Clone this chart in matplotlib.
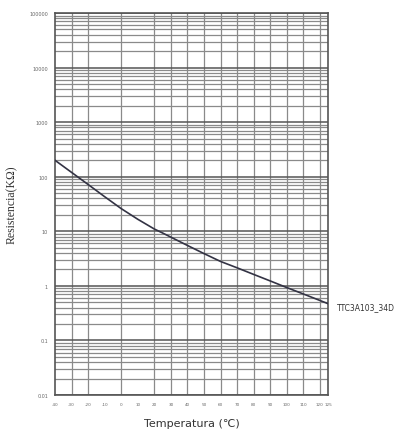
import matplotlib.pyplot as plt
import matplotlib.ticker as mticker

# Datos
temps = [-40, -30, -20, -10, 0, 10, 20, 25, 30, 40, 50, 60, 70, 80, 90, 100, 110, 120, 125]
resist = [200, 120, 72, 43, 26, 16.6, 11, 9.3, 7.8, 5.5, 3.9, 2.8, 2.14, 1.62, 1.23, 0.93, 0.71, 0.54, 0.47]

xticks = [-40, -30, -20, -10, 0, 10, 20, 30, 40, 50, 60, 70, 80, 90, 100, 110, 120, 125]
yticks = [0.01, 0.1, 1, 10, 100, 1000, 10000, 100000]
ylabels = ['0.01', '0.1', '1', '10', '100', '1000', '10000', '100000']
vgrid = [-30, -20, 0, 20, 30, 40, 50, 60, 70, 80, 90, 100, 110, 120]

fig = plt.figure(figsize=(4.17, 4.39), dpi=100)
ax = fig.add_axes([0.132, 0.098, 0.655, 0.870])

ax.set_yscale('log')
ax.set_xlim(-40, 125)
ax.set_ylim(0.01, 100000)

# rejilla
ax.yaxis.set_minor_locator(mticker.LogLocator(base=10, subs=range(2, 10), numticks=20))
ax.grid(True, which='major', axis='y', color='#555555', linewidth=1.1)
ax.grid(True, which='minor', axis='y', color='#8a8a8a', linewidth=0.9)
for t in vgrid:
    ax.axvline(t, color='#8a8a8a', linewidth=0.9, zorder=1)

ax.plot(temps, resist, color='#333344', linewidth=1.2, zorder=3)

ax.set_xticks(xticks)
ax.set_xticklabels([str(t) for t in xticks], fontsize=3, color='#666666')
ax.set_yticks(yticks)
ax.set_yticklabels(ylabels, fontsize=3.5, color='#666666')
ax.yaxis.set_minor_formatter(mticker.NullFormatter())
ax.tick_params(which='both', length=0, pad=5)

for s in ax.spines.values():
    s.set_color('#555555')
    s.set_linewidth(1.2)

ax.set_xlabel('Temperatura (\u2103)', fontsize=8, color='#333333', labelpad=9)
ax.set_ylabel('Resistencia(K\u03a9)', fontsize=8.5, color='#333333',
              family='Liberation Serif', labelpad=8)

ax.annotate('TTC3A103_34D', xy=(125, 0.47), xytext=(6, -2), textcoords='offset points',
            fontsize=5.5, color='#333333', va='center', annotation_clip=False)

fig.savefig('out.png', dpi=100)
